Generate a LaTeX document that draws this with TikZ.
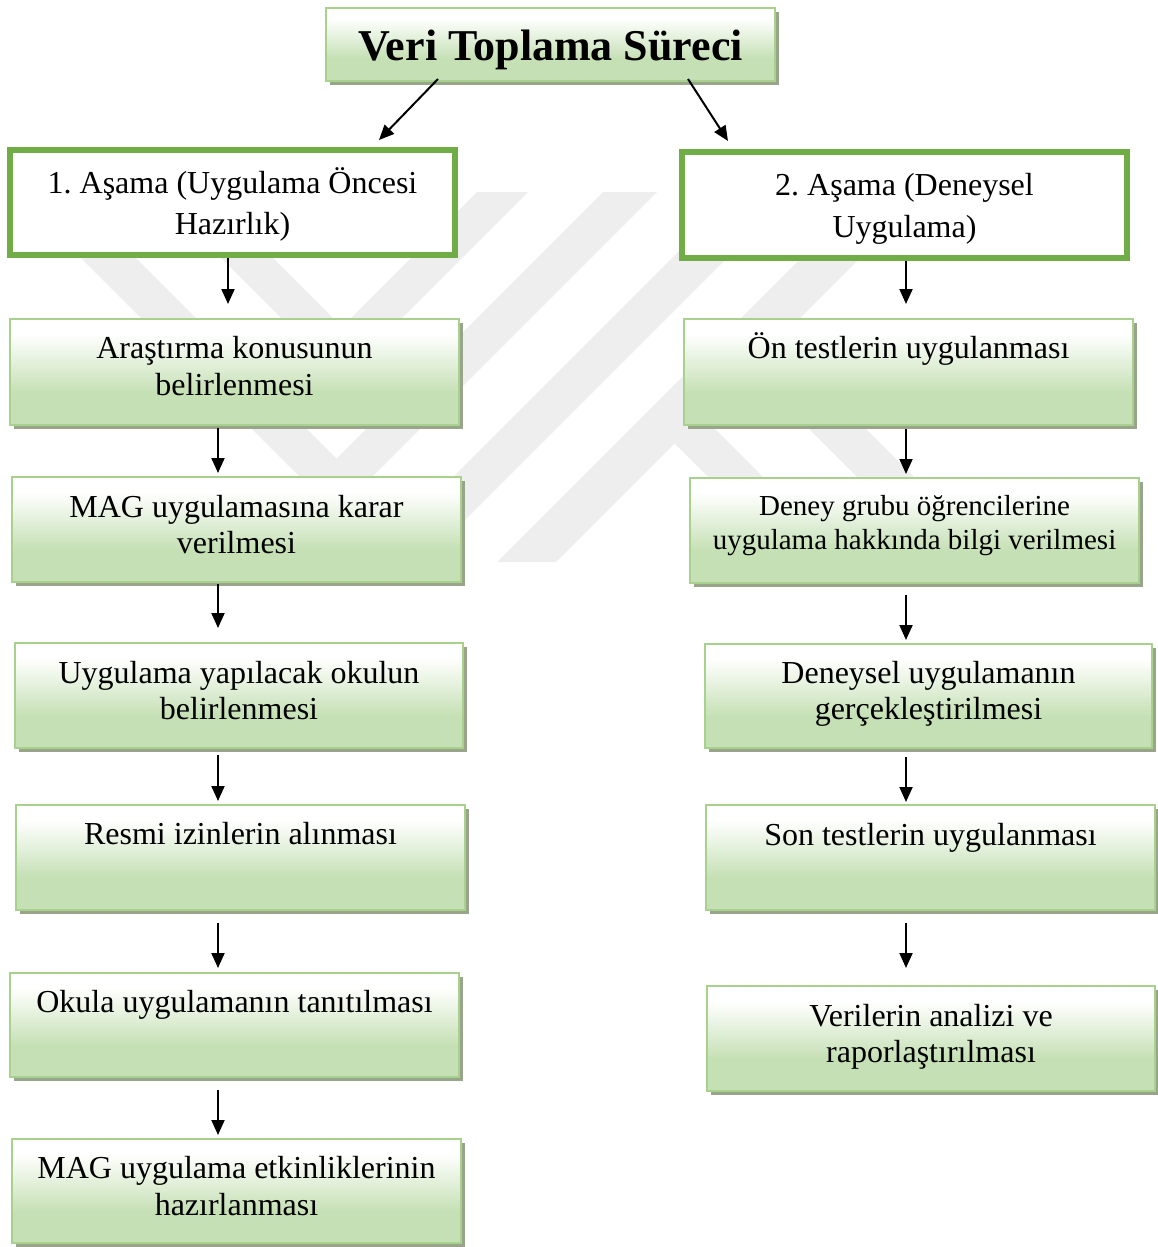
\documentclass[tikz,border=0pt]{standalone}
\usepackage{fontspec}
\setmainfont{Liberation Serif}
\usetikzlibrary{arrows.meta,shadows}
\definecolor{gbot}{RGB}{197,224,180}
\definecolor{gborder}{RGB}{169,209,142}
\definecolor{hborder}{RGB}{112,173,71}
\definecolor{shadc}{RGB}{152,165,138}
\definecolor{wmark}{RGB}{238,238,238}
\pgfdeclareverticalshading{boxshade}{100bp}{color(0bp)=(gbot); color(40bp)=(gbot); color(68bp)=(white); color(100bp)=(white)}
\newcommand{\twol}[1]{\begin{tabular}[t]{@{}c@{}}#1\end{tabular}}
\frenchspacing
\tikzset{
  gbox/.style={rectangle, draw=gborder, line width=2pt, shade, shading=boxshade,
    inner sep=0pt, outer sep=0pt, anchor=north west,
    drop shadow={shadow xshift=4pt, shadow yshift=-4pt, fill=shadc, opacity=1}},
  hbox/.style={rectangle, draw=hborder, line width=6pt, fill=white,
    inner sep=0pt, outer sep=0pt, anchor=north west},
  txt/.style={inner sep=0pt, anchor=base, font=\fontsize{32}{37}\selectfont},
  arr/.style={-{Triangle[length=15pt,width=13pt]}, line width=2pt, black},
}
\begin{document}
\begin{tikzpicture}[x=1pt,y=-1pt]
\useasboundingbox (0,0) rectangle (1157,1247);
% watermark
\fill[wmark] (15,192) -- (70,192) -- (336.5,458.5) -- (603,192) -- (657,192) -- (336,513) -- cycle;
\fill[wmark] (155,192) -- (207,192) -- (342,327) -- (477,192) -- (528,192) -- (341.5,378.5) -- cycle;
\fill[wmark] (738,192) -- (793,192) -- (423,562) -- (368,562) -- cycle;
\fill[wmark] (867,192) -- (926,192) -- (702,416) -- (848,562) -- (793,562) -- (674.5,443.5) -- (556,562) -- (497,562) -- cycle;
\fill[wmark] (710,330) -- (767,330) -- (999,562) -- (942,562) -- cycle;

% title
\node[gbox, minimum width=449pt, minimum height=73pt] (T) at (326,8) {};
\node[txt, font=\fontsize{44}{50}\selectfont\bfseries] (Tt) at (550.5,61) {Veri Toplama Süreci};

% headers
\node[hbox, minimum width=445pt, minimum height=105pt] (H1) at (10,150) {};
\node[txt, font=\fontsize{32}{41}\selectfont] (H1t) at (232.5,193) {\twol{1. Aşama (Uygulama Öncesi\\Hazırlık)}};
\node[hbox, minimum width=445pt, minimum height=106pt] (H2) at (682,152) {};
\node[txt, font=\fontsize{32}{42}\selectfont] (H2t) at (904.5,195) {\twol{2. Aşama (Deneysel\\Uygulama)}};

% left column
\node[gbox, minimum width=449pt, minimum height=106pt] (L1) at (10,319) {};
\node[txt] (L1t) at (234.5,358) {\twol{Araştırma konusunun\\belirlenmesi}};
\node[gbox, minimum width=449pt, minimum height=105pt] (L2) at (12,477) {};
\node[txt, font=\fontsize{32}{36}\selectfont] (L2t) at (236.5,517) {\twol{MAG uygulamasına karar\\verilmesi}};
\node[gbox, minimum width=448pt, minimum height=105pt] (L3) at (15,643) {};
\node[txt, font=\fontsize{32}{36}\selectfont] (L3t) at (239,683) {\twol{Uygulama yapılacak okulun\\belirlenmesi}};
\node[gbox, minimum width=449pt, minimum height=105pt] (L4) at (16,805) {};
\node[txt] (L4t) at (240.5,844) {Resmi izinlerin alınması};
\node[gbox, minimum width=449pt, minimum height=104pt] (L5) at (10,973) {};
\node[txt] (L5t) at (234.5,1012) {Okula uygulamanın tanıtılması};
\node[gbox, minimum width=449pt, minimum height=104pt] (L6) at (12,1139) {};
\node[txt] (L6t) at (236.5,1178) {\twol{MAG uygulama etkinliklerinin\\hazırlanması}};

% right column
\node[gbox, minimum width=449pt, minimum height=106pt] (R1) at (684,319) {};
\node[txt] (R1t) at (908.5,358) {Ön testlerin uygulanması};
\node[gbox, minimum width=449pt, minimum height=105pt] (R2) at (690,478) {};
\node[txt, font=\fontsize{29}{34}\selectfont] (R2t) at (914.5,515) {\twol{Deney grubu öğrencilerine\\uygulama hakkında bilgi verilmesi}};
\node[gbox, minimum width=447pt, minimum height=104pt] (R3) at (705,644) {};
\node[txt, font=\fontsize{32}{36}\selectfont] (R3t) at (928.5,683) {\twol{Deneysel uygulamanın\\gerçekleştirilmesi}};
\node[gbox, minimum width=449pt, minimum height=105pt] (R4) at (706,805) {};
\node[txt] (R4t) at (930.5,845) {Son testlerin uygulanması};
\node[gbox, minimum width=448pt, minimum height=105pt] (R5) at (707,986) {};
\node[txt, font=\fontsize{32}{36}\selectfont] (R5t) at (931,1026) {\twol{Verilerin analizi ve\\raporlaştırılması}};

% arrows
\draw[arr] ([xshift=-112.5pt,yshift=2pt]T.south) -- ([xshift=146.5pt,yshift=10pt]H1.north);
\draw[arr] ([xshift=137.5pt,yshift=2pt]T.south) -- ([xshift=-176.5pt,yshift=11pt]H2.north);

\draw[arr] ([xshift=-4.5pt,yshift=-3pt]H1.south) -- ([xshift=-6.5pt,yshift=15pt]L1.north);
\draw[arr] ([xshift=-16.5pt,yshift=-3pt]L1.south) -- ([xshift=-18.5pt,yshift=4pt]L2.north);
\draw[arr] ([xshift=-18.5pt,yshift=-2pt]L2.south) -- ([xshift=-21pt,yshift=15pt]L3.north);
\draw[arr] ([xshift=-21pt,yshift=-7pt]L3.south) -- ([xshift=-22.5pt,yshift=4pt]L4.north);
\draw[arr] ([xshift=-22.5pt,yshift=-13pt]L4.south) -- ([xshift=-16.5pt,yshift=5pt]L5.north);
\draw[arr] ([xshift=-16.5pt,yshift=-13pt]L5.south) -- ([xshift=-18.5pt,yshift=4pt]L6.north);

\draw[arr] ([xshift=1.5pt,yshift=-3pt]H2.south) -- ([xshift=-2.5pt,yshift=15pt]R1.north);
\draw[arr] ([xshift=-2.5pt,yshift=-4pt]R1.south) -- ([xshift=-8.5pt,yshift=4pt]R2.north);
\draw[arr] ([xshift=-8.5pt,yshift=-12pt]R2.south) -- ([xshift=-22.5pt,yshift=4pt]R3.north);
\draw[arr] ([xshift=-22.5pt,yshift=-9pt]R3.south) -- ([xshift=-24.5pt,yshift=3pt]R4.north);
\draw[arr] ([xshift=-24.5pt,yshift=-13pt]R4.south) -- ([xshift=-25pt,yshift=18pt]R5.north);
\end{tikzpicture}
\end{document}
